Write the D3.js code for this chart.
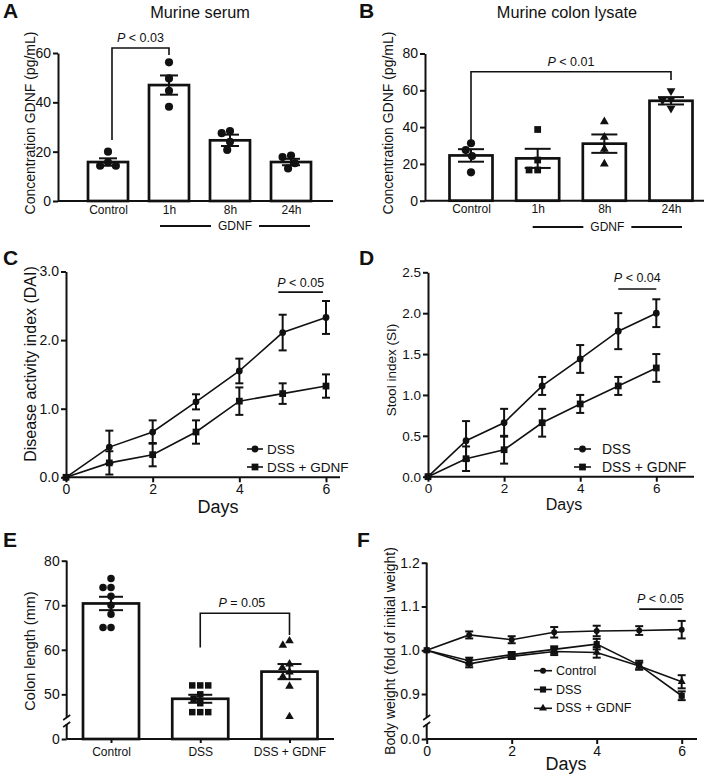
<!DOCTYPE html>
<html><head><meta charset="utf-8">
<script src="https://cdn.jsdelivr.net/npm/d3@7"></script>
<style>body{margin:0;background:#fff} svg{display:block}</style>
</head><body><svg id="chart" width="708" height="782"></svg>
<script>
// ---------------- DATA ----------------
// Panel A: Murine serum
const aCategories = ["Control", "1h", "8h", "24h"];
const aMeans = [15.8, 47.0, 24.6, 15.8];
const aSem = [1.5, 3.9, 2.3, 1.3];
const aPoints = [[20.0, 15.7, 14.3, 14.3], [56.2, 49.7, 44.7, 38.2], [28.4, 27.5, 24.0, 20.7], [18.4, 17.8, 15.3, 13.2]];
const aTicks = [0, 20, 40, 60];
// Panel B: Murine colon lysate
const bCategories = ["Control", "1h", "8h", "24h"];
const bMeans = [24.6, 23.0, 31.0, 54.3];
const bSem = [3.4, 5.2, 5.0, 2.0];
const bPoints = [[31.2, 27.5, 24.3, 15.4], [38.7, 22.1, 16.7, 16.7], [43.0, 34.5, 28.0, 20.0], [59.7, 55.0, 54.5, 50.2]];
const bShapes = ["circle", "square", "triangle", "triangleDown"];
const bTicks = [0, 20, 40, 60, 80];
// Panels C, D, F: days
const days = [0, 1, 2, 3, 4, 5, 6];
const dayTicks = [0, 2, 4, 6];
// Panel C: DAI
const cDss = [0, 0.44, 0.66, 1.10, 1.55, 2.11, 2.33];
const cDssSem = [0, 0.24, 0.17, 0.11, 0.18, 0.26, 0.24];
const cGdnf = [0, 0.21, 0.33, 0.66, 1.11, 1.22, 1.33];
const cGdnfSem = [0, 0.17, 0.17, 0.17, 0.20, 0.15, 0.17];
const cTicks = [0, 1, 2, 3];
// Panel D: Stool index
const dDss = [0, 0.44, 0.66, 1.11, 1.44, 1.78, 2.00];
const dDssSem = [0, 0.24, 0.17, 0.11, 0.17, 0.22, 0.17];
const dGdnf = [0, 0.22, 0.33, 0.66, 0.89, 1.11, 1.33];
const dGdnfSem = [0, 0.15, 0.17, 0.17, 0.11, 0.11, 0.17];
const dTicks = [0, 0.5, 1.0, 1.5, 2.0, 2.5];
// Panel E: Colon length
const eCategories = ["Control", "DSS", "DSS + GDNF"];
const eMeans = [70.4, 49.0, 55.1];
const eSem = [1.5, 0.9, 1.7];
const ePoints = [[76, 74, 74, 72, 70, 68, 65, 65], [52, 52, 52, 50, 49, 48, 46, 46, 46], [62, 61, 56.8, 56, 55, 54, 51.8, 45]];
const eShapes = ["circle", "square", "triangle"];
const eTicks = [0, 50, 60, 70, 80];
// Panel F: Body weight
const fControl = [1.000, 1.035, 1.024, 1.041, 1.044, 1.045, 1.047];
const fControlSem = [0, 0.008, 0.008, 0.012, 0.012, 0.010, 0.020];
const fDss = [1.000, 0.976, 0.990, 1.002, 1.014, 0.966, 0.896];
const fDssSem = [0, 0.007, 0.006, 0.007, 0.012, 0.010, 0.010];
const fGdnf = [1.000, 0.969, 0.986, 0.997, 0.995, 0.964, 0.928];
const fGdnfSem = [0, 0.008, 0.006, 0.008, 0.012, 0.008, 0.015];
const fTicks = [0, 0.9, 1.0, 1.1, 1.2];

// ---------------- DRAWING ----------------
const FONT = '"Liberation Sans", Arial, Helvetica, sans-serif';
const INK = "#111";
const svg = d3.select("#chart");
svg.append("rect").attr("width", 708).attr("height", 782).attr("fill", "#fff");

function symPath(shape, size) {
  const t = shape === "circle" ? d3.symbolCircle : shape === "square" ? d3.symbolSquare : d3.symbolTriangle;
  return d3.symbol().type(t).size(size)();
}
function marker(g, shape, cx, cy, size) {
  g.append("path").attr("d", symPath(shape, size))
    .attr("transform", `translate(${cx},${cy})` + (shape === "triangleDown" ? " rotate(180)" : ""))
    .attr("fill", INK);
}
function swarm(values, y, r) {
  const d = 2 * r + 0.6;
  const items = values.map(v => ({ v, py: y(v) })).sort((a, b) => a.py - b.py);
  const placed = [];
  items.forEach(it => {
    const ivs = [];
    placed.forEach(p => {
      const dy = Math.abs(p.py - it.py);
      if (dy < d) { const w = Math.sqrt(d * d - dy * dy); ivs.push([p.dx - w, p.dx + w]); }
    });
    const cands = [0];
    ivs.forEach(iv => cands.push(iv[0], iv[1]));
    cands.sort((a, b) => Math.abs(a) - Math.abs(b) || a - b);
    it.dx = cands.find(c => ivs.every(iv => c <= iv[0] + 1e-6 || c >= iv[1] - 1e-6));
    placed.push(it);
  });
  return placed;
}
function styleAxis(sel, fs) {
  sel.attr("font-family", FONT).attr("font-size", fs);
  sel.selectAll(".domain").attr("stroke", INK).attr("stroke-width", 2);
  sel.selectAll(".tick line").attr("stroke", INK).attr("stroke-width", 2);
  sel.selectAll(".tick text").attr("fill", INK);
}
function label(txt, x, y, fs, opts = {}) {
  const t = svg.append("text").attr("x", x).attr("y", y).attr("font-family", FONT)
    .attr("font-size", fs).attr("fill", INK).attr("text-anchor", opts.anchor || "middle")
    .attr("font-weight", opts.bold ? "bold" : "normal").text(txt);
  return t;
}
function yLabel(txt, x, y, fs) {
  svg.append("text").attr("transform", `translate(${x},${y}) rotate(-90)`)
    .attr("font-family", FONT).attr("font-size", fs).attr("fill", INK)
    .attr("text-anchor", "middle").attr("dominant-baseline", "central").text(txt);
}
function pText(rest, x, y, fs) {
  const t = svg.append("text").attr("x", x).attr("y", y).attr("font-family", FONT)
    .attr("font-size", fs).attr("fill", INK).attr("text-anchor", "middle");
  t.append("tspan").attr("font-style", "italic").text("P");
  t.append("tspan").text(rest);
}
function brokenYAxisLine(g, x0, yTop, yBot, b1, b2) {
  g.append("line").attr("x1", x0).attr("x2", x0).attr("y1", yTop).attr("y2", b1).attr("stroke", INK).attr("stroke-width", 2);
  g.append("line").attr("x1", x0).attr("x2", x0).attr("y1", b2).attr("y2", yBot).attr("stroke", INK).attr("stroke-width", 2);
  g.append("line").attr("x1", x0 - 3.5).attr("x2", x0 + 3.5).attr("y1", b1 + 2).attr("y2", b1 - 3).attr("stroke", INK).attr("stroke-width", 1.6);
  g.append("line").attr("x1", x0 - 3.5).attr("x2", x0 + 3.5).attr("y1", b2 + 3).attr("y2", b2 - 2).attr("stroke", INK).attr("stroke-width", 1.6);
}

function barPanel(o) {
  const g = svg.append("g");
  const x = d3.scalePoint().domain(o.cats).range(o.xRange);
  const y = d3.scaleLinear().domain(o.yDomain).range(o.yRange);
  g.selectAll("rect.bar").data(o.cats).join("rect").attr("class", "bar")
    .attr("x", c => x(c) - o.bw / 2).attr("width", o.bw)
    .attr("y", (c, i) => y(o.means[i])).attr("height", (c, i) => y(0) - y(o.means[i]))
    .attr("fill", "#fff").attr("stroke", INK).attr("stroke-width", 2.7);
  const ya = g.append("g").attr("transform", `translate(${o.axisX},0)`)
    .call(d3.axisLeft(y).tickValues(o.ticks).tickFormat(d3.format("d")).tickSize(5).tickSizeOuter(0).tickPadding(2));
  styleAxis(ya, o.yfs);
  if (o.broken) {
    ya.select(".domain").remove();
    brokenYAxisLine(g, o.axisX, y(o.ticks[o.ticks.length - 1]), y(0), o.broken[0], o.broken[1]);
  }
  g.append("line").attr("x1", o.axisX).attr("x2", o.xEnd).attr("y1", y(0)).attr("y2", y(0)).attr("stroke", INK).attr("stroke-width", 2);
  const xa = g.append("g").attr("transform", `translate(0,${y(0)})`)
    .call(d3.axisBottom(x).tickSize(o.xTick).tickPadding(4));
  xa.select(".domain").remove();
  styleAxis(xa, o.xfs);
  o.cats.forEach((c, i) => {
    const cx = x(c), lo = y(o.means[i] - o.sem[i]), hi = y(o.means[i] + o.sem[i]);
    g.append("line").attr("x1", cx).attr("x2", cx).attr("y1", lo).attr("y2", hi).attr("stroke", INK).attr("stroke-width", 2);
    [lo, hi].forEach(v => g.append("line").attr("x1", cx - o.cap).attr("x2", cx + o.cap).attr("y1", v).attr("y2", v).attr("stroke", INK).attr("stroke-width", 2));
  });
  o.points.forEach((vals, i) => {
    const cx = x(o.cats[i]);
    swarm(vals, y, o.r).forEach(p => marker(g, o.shapes[i], cx + p.dx, p.py, o.symSize[o.shapes[i]]));
  });
  return { x, y, g };
}

function linePanel(o) {
  const g = svg.append("g");
  const x = d3.scaleLinear().domain([0, 6]).range(o.xRange);
  const y = d3.scaleLinear().domain(o.yDomain).range(o.yRange);
  const ya = g.append("g").attr("transform", `translate(${o.xRange[0]},0)`)
    .call(d3.axisLeft(y).tickValues(o.ticks).tickFormat(d3.format(".1f")).tickSize(5).tickSizeOuter(0).tickPadding(2));
  styleAxis(ya, o.yfs);
  if (o.broken) {
    ya.select(".domain").remove();
    brokenYAxisLine(g, o.xRange[0], y(o.ticks[o.ticks.length - 1]), y(0), o.broken[0], o.broken[1]);
  }
  const xa = g.append("g").attr("transform", `translate(0,${y(0)})`)
    .call(d3.axisBottom(x).tickValues(dayTicks).tickFormat(d3.format("d")).tickSize(5).tickPadding(2));
  xa.select(".domain").remove();
  styleAxis(xa, o.xfs);
  g.append("line").attr("x1", o.xRange[0]).attr("x2", o.xEnd).attr("y1", y(0)).attr("y2", y(0)).attr("stroke", INK).attr("stroke-width", 2);
  const line = d3.line().x((d, i) => x(days[i])).y(d => y(d));
  o.series.forEach(s => g.append("path").datum(s.values).attr("d", line).attr("fill", "none").attr("stroke", INK).attr("stroke-width", 1.6));
  o.series.forEach(s => {
    s.values.forEach((v, i) => {
      if (s.sem[i] > 0) {
        const cx = x(days[i]), lo = y(v - s.sem[i]), hi = y(v + s.sem[i]);
        g.append("line").attr("x1", cx).attr("x2", cx).attr("y1", lo).attr("y2", hi).attr("stroke", INK).attr("stroke-width", 2);
        [lo, hi].forEach(w => g.append("line").attr("x1", cx - o.cap).attr("x2", cx + o.cap).attr("y1", w).attr("y2", w).attr("stroke", INK).attr("stroke-width", 2));
      }
      marker(g, s.shape, x(days[i]), y(v), o.symSize[s.shape]);
    });
  });
  o.series.forEach((s, k) => {
    const ly = o.legend.y + k * o.legend.dy;
    g.append("line").attr("x1", o.legend.x).attr("x2", o.legend.x + o.legend.seg).attr("y1", ly).attr("y2", ly).attr("stroke", INK).attr("stroke-width", 1.6);
    marker(g, s.shape, o.legend.x + o.legend.seg / 2, ly, o.symSize[s.shape]);
    g.append("text").attr("x", o.legend.tx).attr("y", ly).attr("dominant-baseline", "central")
      .attr("font-family", FONT).attr("font-size", o.legend.fs).attr("fill", INK).text(s.name);
  });
  return { x, y, g };
}

function groupLabel(x1, x2, yy, fs) {
  const mid = (x1 + x2) / 2;
  const t = label("GDNF", mid, yy + fs * 0.36, fs);
  const tw = t.node().getComputedTextLength();
  svg.append("line").attr("x1", x1).attr("x2", mid - tw / 2 - 7).attr("y1", yy).attr("y2", yy).attr("stroke", INK).attr("stroke-width", 2);
  svg.append("line").attr("x1", mid + tw / 2 + 7).attr("x2", x2).attr("y1", yy).attr("y2", yy).attr("stroke", INK).attr("stroke-width", 2);
}

// ----- Panel A -----
const A = barPanel({
  cats: aCategories, means: aMeans, sem: aSem, points: aPoints, shapes: ["circle", "circle", "circle", "circle"],
  xRange: [108, 291], yDomain: [0, 60], yRange: [201, 53], ticks: aTicks, axisX: 58, xEnd: 333,
  bw: 40, cap: 9, r: 4, symSize: { circle: 52 }, yfs: 14, xfs: 12, xTick: 0
});
label("A", 3, 18, 21, { anchor: "start", bold: true });
label("Murine serum", 200, 18, 16.3);
yLabel("Concentration GDNF (pg/mL)", 30, 123, 14);
groupLabel(A.x("1h") - 9, A.x("24h") + 19, 226, 12);
svg.append("path").attr("d", `M${A.x("Control") + 4},${A.y(24.7)}V${A.y(62)}H${A.x("1h")}V${A.y(59.2)}`)
  .attr("fill", "none").attr("stroke", INK).attr("stroke-width", 1.6);
pText(" < 0.03", (A.x("Control") + 4 + A.x("1h")) / 2, 42, 12.5);

// ----- Panel B -----
const B = barPanel({
  cats: bCategories, means: bMeans, sem: bSem, points: bPoints, shapes: bShapes,
  xRange: [471, 671], yDomain: [0, 80], yRange: [200.7, 53.5], ticks: bTicks, axisX: 425, xEnd: 704,
  bw: 43, cap: 13, r: 4, symSize: { circle: 52, square: 46, triangle: 34, triangleDown: 34 }, yfs: 14, xfs: 12, xTick: 0
});
label("B", 359, 18, 21, { anchor: "start", bold: true });
label("Murine colon lysate", 567, 18, 16.3);
yLabel("Concentration GDNF (pg/mL)", 388, 123, 14);
groupLabel(B.x("1h") - 5, B.x("24h") + 11, 227, 12);
svg.append("path").attr("d", `M${B.x("Control")},${B.y(29.2)}V${B.y(70.1)}H${B.x("24h")}V${B.y(65.6)}`)
  .attr("fill", "none").attr("stroke", INK).attr("stroke-width", 1.6);
pText(" < 0.01", (B.x("Control") + B.x("24h")) / 2, 66, 12.5);

// ----- Panel C -----
const C = linePanel({
  xRange: [66, 326], xEnd: 340, yDomain: [0, 3], yRange: [477.3, 271.5], ticks: cTicks, yfs: 14, xfs: 14, cap: 4,
  symSize: { circle: 36, square: 46 },
  series: [
    { name: "DSS", values: cDss, sem: cDssSem, shape: "circle" },
    { name: "DSS + GDNF", values: cGdnf, sem: cGdnfSem, shape: "square" }
  ],
  legend: { x: 247, seg: 16, tx: 267, y: 449, dy: 18, fs: 13.5 }
});
label("C", 3, 265, 21, { anchor: "start", bold: true });
yLabel("Disease activity index (DAI)", 30, 364, 16);
label("Days", 218, 513, 18);
svg.append("line").attr("x1", C.x(4.9)).attr("x2", C.x(5.93)).attr("y1", C.y(2.7)).attr("y2", C.y(2.7)).attr("stroke", INK).attr("stroke-width", 1.6);
pText(" < 0.05", (C.x(4.9) + C.x(5.93)) / 2, 287, 12.5);

// ----- Panel D -----
const D = linePanel({
  xRange: [428, 656.3], xEnd: 694, yDomain: [0, 2.5], yRange: [476.7, 272.3], ticks: dTicks, yfs: 13.5, xfs: 13.5, cap: 4,
  symSize: { circle: 36, square: 46 },
  series: [
    { name: "DSS", values: dDss, sem: dDssSem, shape: "circle" },
    { name: "DSS + GDNF", values: dGdnf, sem: dGdnfSem, shape: "square" }
  ],
  legend: { x: 574, seg: 17, tx: 602, y: 449, dy: 18, fs: 14 }
});
label("D", 359, 265, 21, { anchor: "start", bold: true });
yLabel("Stool index (SI)", 391, 370, 13.5);
label("Days", 564, 510, 16);
svg.append("line").attr("x1", D.x(5)).attr("x2", D.x(6)).attr("y1", D.y(2.296)).attr("y2", D.y(2.296)).attr("stroke", INK).attr("stroke-width", 1.6);
pText(" < 0.04", (D.x(5) + D.x(6)) / 2, 282, 12.5);

// ----- Panel E -----
const E = barPanel({
  cats: eCategories, means: eMeans, sem: eSem, points: ePoints, shapes: eShapes,
  xRange: [111, 289.5], yDomain: [0, 45, 80], yRange: [739, 716.6, 560.7], ticks: eTicks, axisX: 66.7, xEnd: 334,
  bw: 56, cap: 12, r: 3.7, symSize: { circle: 44, square: 42, triangle: 32 }, yfs: 14, xfs: 12, xTick: 4,
  broken: [718, 724]
});
label("E", 3, 547, 21, { anchor: "start", bold: true });
yLabel("Colon length (mm)", 30, 651, 14.5);
svg.append("path").attr("d", `M${E.x("DSS")},${E.y(60.5)}V${E.y(68.2)}H${E.x("DSS + GDNF")}V${E.y(63.3)}`)
  .attr("fill", "none").attr("stroke", INK).attr("stroke-width", 1.6);
pText(" = 0.05", (E.x("DSS") + E.x("DSS + GDNF")) / 2 - 3, 606.7, 12.5);

// ----- Panel F -----
const F = linePanel({
  xRange: [426.7, 681.7], xEnd: 697, yDomain: [0, 0.85, 1.2], yRange: [739, 715.9, 562.7], ticks: fTicks, yfs: 14, xfs: 14, cap: 4,
  symSize: { circle: 28, square: 38, triangle: 28 }, broken: [718, 724],
  series: [
    { name: "Control", values: fControl, sem: fControlSem, shape: "circle" },
    { name: "DSS", values: fDss, sem: fDssSem, shape: "square" },
    { name: "DSS + GDNF", values: fGdnf, sem: fGdnfSem, shape: "triangle" }
  ],
  legend: { x: 534, seg: 18, tx: 556, y: 670.7, dy: 18.8, fs: 12.5 }
});
label("F", 357, 547, 21, { anchor: "start", bold: true });
yLabel("Body weight (fold of initial weight)", 390, 651, 14);
label("Days", 566, 770, 18);
svg.append("line").attr("x1", F.x(5)).attr("x2", F.x(6)).attr("y1", F.y(1.094)).attr("y2", F.y(1.094)).attr("stroke", INK).attr("stroke-width", 1.6);
pText(" < 0.05", (F.x(5) + F.x(6)) / 2, 602.7, 12.5);
</script>
</body></html>
